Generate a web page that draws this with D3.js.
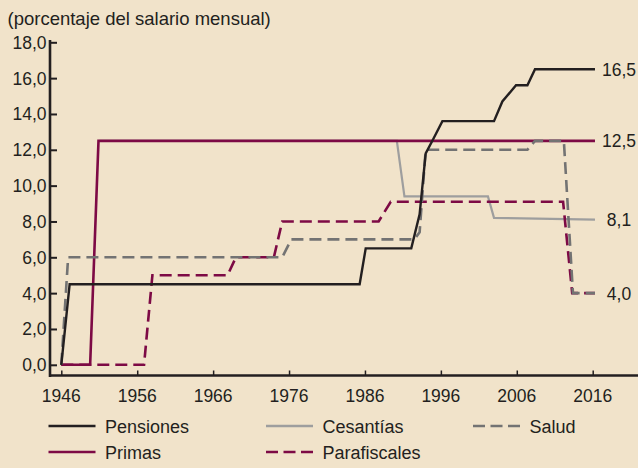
<!doctype html>
<html>
<head>
<meta charset="utf-8">
<title>Contribuciones</title>
<script src="https://d3js.org/d3.v7.min.js"></script>
<style>
  body { margin: 0; background: #f1e3ca; }
  svg text { font-family: "Liberation Sans", Arial, sans-serif; fill: #231f20; }
</style>
</head>
<body>
<svg width="638" height="468"></svg>
<script>
// data (year, % of monthly wage)
var pensionesYears  = [1946, 1947.1, 1985.3, 1986.1, 1992.1, 1993.2, 1994, 1995, 1996.2, 2003, 2004.1, 2005.9, 2007.4, 2008.4, 2016.3];
var pensionesValues = [0, 4.5, 4.5, 6.5, 6.5, 8.4, 11.8, 12.6, 13.6, 13.6, 14.7, 15.6, 15.6, 16.5, 16.5];

var cesantiasYears  = [1951, 1990.2, 1991.2, 2002.2, 2003, 2016.3];
var cesantiasValues = [12.5, 12.5, 9.4, 9.4, 8.2, 8.1];

var saludYears  = [1946, 1946.9, 1975.1, 1976.3, 1992.5, 1993.2, 1994, 2007.4, 2008.4, 2012.2, 2013.4, 2016.3];
var saludValues = [0, 6, 6, 7, 7, 7.4, 12, 12, 12.5, 12.5, 4, 4];

var primasYears  = [1946, 1949.8, 1950.9, 2016.3];
var primasValues = [0, 0, 12.5, 12.5];

var parafiscalesYears  = [1946, 1956.9, 1958, 1967.9, 1969, 1974, 1975.1, 1987.8, 1989.4, 2012.1, 2013.3, 2016.3];
var parafiscalesValues = [0, 0, 5, 5, 6, 6, 8, 8, 9.1, 9.1, 4, 4];

var xTicks = [1946, 1956, 1966, 1976, 1986, 1996, 2006, 2016];
var yTicks = [0, 2, 4, 6, 8, 10, 12, 14, 16, 18];
var endLabels = ["16,5", "12,5", "8,1", "4,0"];
var endValues = [16.5, 12.5, 8.1, 4.0];

var svg = d3.select("svg");

var x = d3.scaleLinear().domain([1946, 2016]).range([61.3, 592.7]);
var y = d3.scaleLinear().domain([0, 18]).range([364.8, 42.3]);

var fmt = function(d) { return d.toFixed(1).replace(".", ","); };

// title
svg.append("text")
  .attr("x", 7.5).attr("y", 25)
  .style("font-size", "18.5px")
  .text("(porcentaje del salario mensual)");

// y axis
var yAxis = svg.append("g").attr("transform", "translate(50,0)")
  .call(d3.axisRight(y).tickValues(yTicks).tickSize(7).tickFormat(""));
yAxis.select(".domain").remove();
yAxis.selectAll("line").attr("stroke", "#231f20").attr("stroke-width", 2);
svg.append("line")
  .attr("x1", 50).attr("x2", 50).attr("y1", 40).attr("y2", 377)
  .attr("stroke", "#231f20").attr("stroke-width", 2.6);
svg.selectAll(".ylab").data(yTicks).enter().append("text")
  .attr("class", "ylab")
  .attr("x", 46.5).attr("y", function(d) { return y(d) + 6.5; })
  .attr("text-anchor", "end")
  .style("font-size", "17.5px")
  .text(fmt);

// x axis
var xAxis = svg.append("g").attr("transform", "translate(0,375.5)")
  .call(d3.axisTop(x).tickValues(xTicks).tickSize(5).tickFormat(""));
xAxis.select(".domain").remove();
xAxis.selectAll("line").attr("stroke", "#231f20").attr("stroke-width", 1.5);
svg.append("line")
  .attr("x1", 49).attr("x2", 638).attr("y1", 375.5).attr("y2", 375.5)
  .attr("stroke", "#231f20").attr("stroke-width", 2.6);
svg.selectAll(".xlab").data(xTicks).enter().append("text")
  .attr("class", "xlab")
  .attr("x", function(d) { return x(d); }).attr("y", 402)
  .attr("text-anchor", "middle")
  .style("font-size", "17.5px")
  .text(function(d) { return d; });

// series
var series = [
  { name: "Cesantías", years: cesantiasYears, values: cesantiasValues, color: "#9e9e9e", width: 2.2, dash: null },
  { name: "Primas", years: primasYears, values: primasValues, color: "#7d0a45", width: 2.6, dash: null },
  { name: "Parafiscales", years: parafiscalesYears, values: parafiscalesValues, color: "#7d0a45", width: 2.6, dash: "12,6" },
  { name: "Salud", years: saludYears, values: saludValues, color: "#737373", width: 2.6, dash: "12,6" },
  { name: "Pensiones", years: pensionesYears, values: pensionesValues, color: "#231f20", width: 2.4, dash: null }
];

var line = d3.line()
  .x(function(d) { return x(d[0]); })
  .y(function(d) { return y(d[1]); });

series.forEach(function(s) {
  var pts = s.years.map(function(yr, i) { return [yr, s.values[i]]; });
  svg.append("path")
    .datum(pts)
    .attr("d", line)
    .attr("fill", "none")
    .attr("stroke", s.color)
    .attr("stroke-width", s.width)
    .attr("stroke-linejoin", "miter")
    .attr("stroke-dasharray", s.dash);
});

// end labels
svg.selectAll(".endlab").data(endValues).enter().append("text")
  .attr("class", "endlab")
  .attr("x", 619).attr("y", function(d) { return y(d) + 6.5; })
  .attr("text-anchor", "middle")
  .style("font-size", "17.5px")
  .text(function(d, i) { return endLabels[i]; });

// legend
var legendItems = [
  { name: "Pensiones", color: "#231f20", dash: null, lx: 48.5, ly: 426 },
  { name: "Cesantías", color: "#9e9e9e", dash: null, lx: 266, ly: 426 },
  { name: "Salud", color: "#737373", dash: "12,5.5", lx: 473, ly: 426 },
  { name: "Primas", color: "#7d0a45", dash: null, lx: 48.5, ly: 452 },
  { name: "Parafiscales", color: "#7d0a45", dash: "12,5.5", lx: 266, ly: 452 }
];
var leg = svg.selectAll(".leg").data(legendItems).enter().append("g").attr("class", "leg");
leg.append("line")
  .attr("x1", function(d) { return d.lx; })
  .attr("x2", function(d) { return d.lx + 47; })
  .attr("y1", function(d) { return d.ly; })
  .attr("y2", function(d) { return d.ly; })
  .attr("stroke", function(d) { return d.color; })
  .attr("stroke-width", 2.6)
  .attr("stroke-dasharray", function(d) { return d.dash; });
leg.append("text")
  .attr("x", function(d) { return d.lx + 56.5; })
  .attr("y", function(d) { return d.ly + 6.5; })
  .style("font-size", "18px")
  .text(function(d) { return d.name; });
</script>
</body>
</html>
